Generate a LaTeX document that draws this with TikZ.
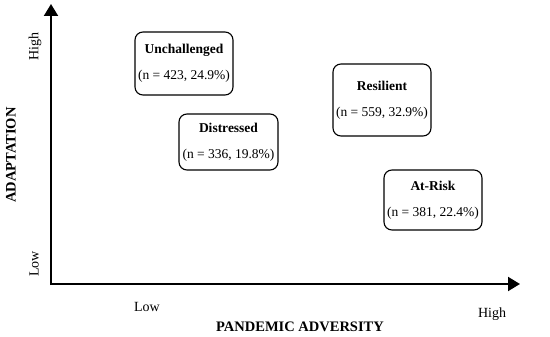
\documentclass[tikz,border=0pt]{standalone}
\usepackage{fontspec}
\setmainfont{Liberation Serif}
\usetikzlibrary{arrows.meta}
\begin{document}
\begin{tikzpicture}[x=1pt,y=-1pt,
  axis/.style={line width=2pt,-{Triangle[length=12pt,width=14pt]}},
  groupbox/.style={draw,line width=1.1pt,rounded corners=8pt,align=center,inner sep=0pt,font=\fontsize{13.5}{15}\selectfont},
  ticklab/.style={font=\fontsize{14}{16}\selectfont},
  axlab/.style={font=\bfseries\fontsize{14.5}{16}\selectfont}]
\useasboundingbox (0,0) rectangle (550,337);
\coordinate (O) at (51,284);
\coordinate (Ytop) at (51,4);
\coordinate (Xend) at (520,284);
\draw[axis] (51,285) -- (Ytop);
\draw[axis] (50,284) -- (Xend);
\node[groupbox,minimum width=98pt,minimum height=63pt] (unch) at (184,63.5) {\textbf{Unchallenged}\\[11pt](n = 423, 24.9\%)};
\node[groupbox,minimum width=99pt,minimum height=56pt] (dist) at (228.5,142) {\textbf{Distressed}\\[11pt](n = 336, 19.8\%)};
\node[groupbox,minimum width=98pt,minimum height=72pt] (res) at (382,100) {\textbf{Resilient}\\[11pt](n = 559, 32.9\%)};
\node[groupbox,minimum width=98pt,minimum height=60pt] (risk) at (433,200) {\textbf{At-Risk}\\[11pt](n = 381, 22.4\%)};
\node[ticklab,rotate=90] (yhigh) at (35,47) {High};
\node[ticklab,rotate=90] (ylow) at (34,264) {Low};
\node[axlab,rotate=90] (ylab) at (11,155) {ADAPTATION};
\node[ticklab] (xlow) at (147,307) {Low};
\node[ticklab] (xhigh) at (492,314) {High};
\node[axlab] (xlab) at (300,327) {PANDEMIC ADVERSITY};
\end{tikzpicture}
\end{document}
